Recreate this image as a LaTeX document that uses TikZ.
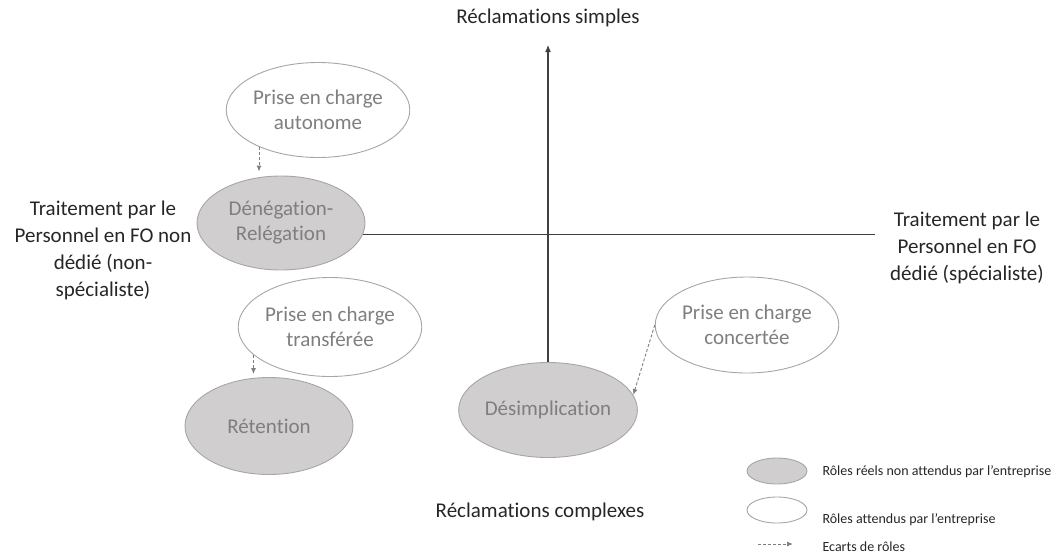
\documentclass[tikz,border=0pt]{standalone}
\usepackage{fontspec}
\setmainfont{Carlito}[Ligatures={NoCommon}]
\usetikzlibrary{shapes.geometric,arrows.meta}
\definecolor{txtgray}{HTML}{7F7F7F}
\definecolor{fillgray}{HTML}{D0CECE}
\definecolor{edgegray}{HTML}{A6A6A6}
\definecolor{axisgray}{HTML}{404040}
\definecolor{labelcol}{HTML}{262626}
\begin{document}
\begin{tikzpicture}[x=1pt,y=-1pt,
  realrole/.style={ellipse, draw=edgegray, fill=fillgray, line width=0.9pt, inner sep=0pt,
    text=txtgray, font=\fontsize{21}{25}\selectfont, align=center},
  exprole/.style={realrole, fill=white},
  gap/.style={draw=txtgray, line width=0.9pt, dash pattern=on 3pt off 2pt,
    -{Latex[length=6pt,width=5pt]}},
  axisline/.style={draw=axisgray, line width=1.1pt},
  axislabel/.style={text=labelcol, font=\fontsize{21}{27}\selectfont, align=center},
  legendtext/.style={anchor=west, text=labelcol, font=\fontsize{14}{16}\selectfont}]
\useasboundingbox (0,0) rectangle (1056,554);

% ellipses
\node[exprole, minimum width=168pt, minimum height=95pt] (aut) at (318,110) {Prise en charge\\autonome};
\node[realrole, minimum width=168pt, minimum height=94pt] (den) at (281,223) {Dénégation-\\Relégation};
\node[exprole, minimum width=156pt, minimum height=99pt] (tra) at (330,327) {Prise en charge\\transférée};
\node[realrole, minimum width=168pt, minimum height=97pt] (ret) at (269,426) {Rétention};
\node[realrole, minimum width=166pt, minimum height=95pt] (des) at (548,410) {Désimplication};
\node[exprole, minimum width=164pt, minimum height=96pt] (con) at (747,325) {Prise en charge\\concertée};

% axes
\coordinate (top) at (548,45);
\coordinate (hend) at (875,0);
\draw[axisline, -{Latex[length=7pt,width=6pt]}] (des.north) -- (top);
\draw[axisline] (den.-8) -- (den.-8 -| hend);

% role gaps
\draw[gap, shorten >=4pt] (aut.212) -- (aut.212 |- den.north);
\draw[gap, shorten >=3pt] (tra.200) -- (tra.200 |- ret.north);
\draw[gap] (con.west) -- (des.10);

% axis labels
\node[axislabel] (simples) at (548,18) {Réclamations simples};
\node[axislabel] (complexes) at (540,512) {Réclamations complexes};
\node[axislabel] (leftlab) at (103,250) {Traitement par le\\Personnel en FO non\\dédié (non-\\spécialiste)};
\node[axislabel] (rightlab) at (967,248) {Traitement par le\\Personnel en FO\\dédié (spécialiste)};

% legend
\node[realrole, minimum width=60pt, minimum height=26pt] (lg1) at (777,471) {};
\node[exprole, minimum width=60pt, minimum height=26pt] (lg2) at (777,510) {};
\coordinate (la) at (758,544);
\coordinate (lb) at (793,544);
\draw[gap] (la) -- (lb);
\node[legendtext] (t1) at (819,472) {Rôles réels non attendus par l’entreprise};
\node[legendtext] (t2) at (819,520) {Rôles attendus par l’entreprise};
\node[legendtext] (t3) at (819,547) {Ecarts de rôles};
\end{tikzpicture}
\end{document}
